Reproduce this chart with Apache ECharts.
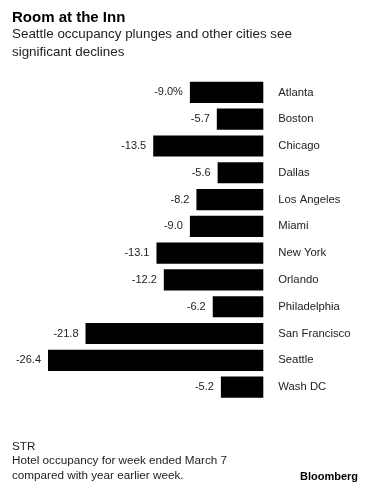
<!DOCTYPE html>
<html>
<head>
<meta charset="utf-8">
<script src="https://cdn.jsdelivr.net/npm/echarts@6/dist/echarts.min.js"></script>
<style>
html,body{margin:0;padding:0;background:#fff;}
#c{width:368px;height:494px;}
</style>
</head>
<body>
<div id="c"></div>
<script>
var cities = ["Atlanta","Boston","Chicago","Dallas","Los Angeles","Miami","New York","Orlando","Philadelphia","San Francisco","Seattle","Wash DC"];
var changes = [-9.0,-5.7,-13.5,-5.6,-8.2,-9.0,-13.1,-12.2,-6.2,-21.8,-26.4,-5.2];
var FONT = "'Liberation Sans', Arial, sans-serif";

var chart = echarts.init(document.getElementById('c'), null, {renderer:'canvas'});
chart.setOption({
  backgroundColor:'#fff',
  animation:false,
  title:[{
    text:'Room at the Inn',
    left:7, top:5,
    textStyle:{fontFamily:FONT,fontSize:15,fontWeight:'bold',color:'#000'}
  },{
    text:'Seattle occupancy plunges and other cities see\nsignificant declines',
    left:7, top:21,
    textStyle:{fontFamily:FONT,fontSize:13.4,fontWeight:'normal',color:'#222',lineHeight:17.5}
  },{
    text:'STR\nHotel occupancy for week ended March 7\ncompared with year earlier week.',
    left:7, top:434,
    textStyle:{fontFamily:FONT,fontSize:11.7,fontWeight:'normal',color:'#222',lineHeight:14.8}
  },{
    text:'Bloomberg',
    right:5, top:466,
    textStyle:{fontFamily:FONT,fontSize:11,fontWeight:'bold',color:'#000'}
  }],
  grid:{left:48,right:104.7,top:79,bottom:93.5},
  xAxis:{
    type:'value',min:-26.4,max:0,show:false
  },
  yAxis:{
    type:'category',data:cities,inverse:true,position:'right',
    axisLine:{show:false},axisTick:{show:false},
    axisLabel:{fontFamily:FONT,fontSize:11.3,color:'#222',margin:15}
  },
  series:[{
    type:'bar',data:changes,barCategoryGap:'21%',
    itemStyle:{color:'#000'},
    label:{
      show:true,position:'left',distance:7,
      fontFamily:FONT,fontSize:11,color:'#222',
      formatter:function(p){
        var s = p.value.toFixed(1);
        return p.dataIndex===0 ? s+'%' : s;
      }
    }
  }]
});
</script>
</body>
</html>
